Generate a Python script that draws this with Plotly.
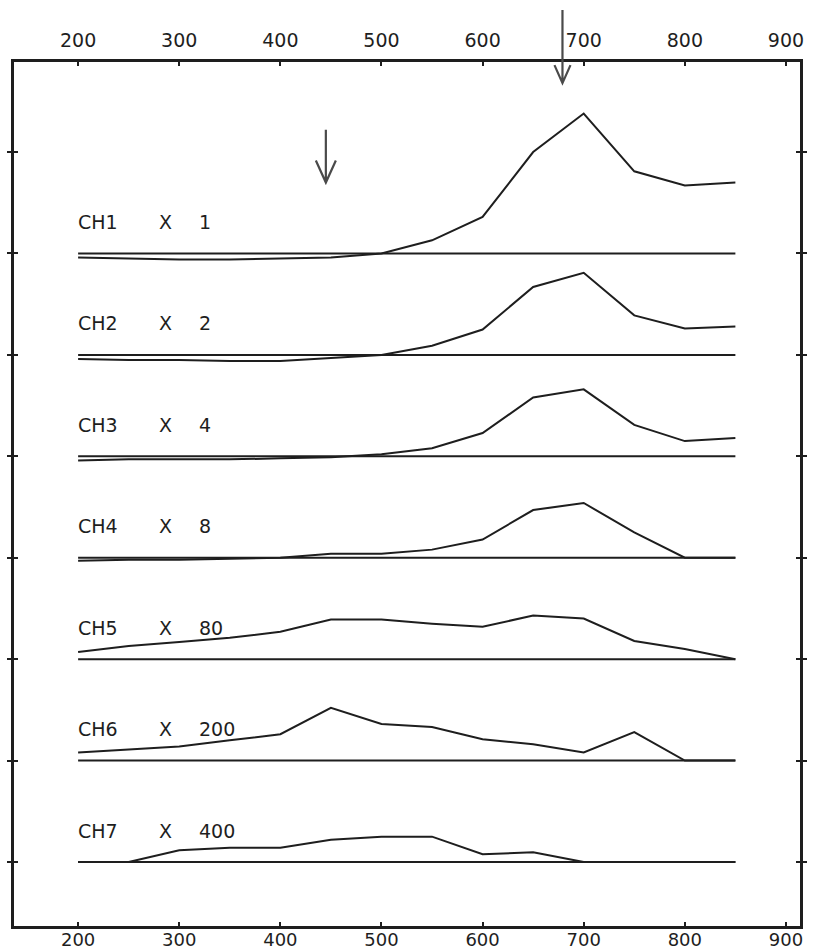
import plotly.graph_objects as go

# ---------------- data ----------------
WAVELENGTH = [200, 250, 300, 350, 400, 450, 500, 550, 600, 650, 700, 750, 800, 850]
CHANNELS = ["CH1", "CH2", "CH3", "CH4", "CH5", "CH6", "CH7"]
FACTORS = ["1", "2", "4", "8", "80", "200", "400"]
OFFSETS = [6, 5, 4, 3, 2, 1, 0]

CH1 = [-0.04, -0.05, -0.06, -0.06, -0.05, -0.04, 0.00, 0.13, 0.36, 1.00, 1.38, 0.81, 0.67, 0.70]
CH2 = [-0.04, -0.05, -0.05, -0.06, -0.06, -0.03, 0.00, 0.09, 0.25, 0.67, 0.81, 0.39, 0.26, 0.28]
CH3 = [-0.04, -0.03, -0.03, -0.03, -0.02, -0.01, 0.02, 0.08, 0.23, 0.58, 0.66, 0.31, 0.15, 0.18]
CH4 = [-0.03, -0.02, -0.02, -0.01, 0.00, 0.04, 0.04, 0.08, 0.18, 0.47, 0.54, 0.25, 0.00, 0.00]
CH5 = [0.07, 0.13, 0.17, 0.21, 0.27, 0.39, 0.39, 0.35, 0.32, 0.43, 0.40, 0.18, 0.10, 0.00]
CH6 = [0.08, 0.11, 0.14, 0.20, 0.26, 0.52, 0.36, 0.33, 0.21, 0.16, 0.08, 0.28, 0.00, 0.00]
CH7 = [0.00, 0.00, 0.115, 0.14, 0.14, 0.22, 0.25, 0.25, 0.076, 0.095, 0.00, 0.00, 0.00, 0.00]
SERIES = [CH1, CH2, CH3, CH4, CH5, CH6, CH7]

X_TICKS = [200, 300, 400, 500, 600, 700, 800, 900]
Y_TICKS = [0, 1, 2, 3, 4, 5, 6, 7]

# hand-drawn arrows (wavelength, tail level, tip level)
ARROW_X = [679, 445]
ARROW_TAIL = [8.40, 7.22]
ARROW_TIP = [7.68, 6.70]

# ---------------- layout constants ----------------
W, H = 820, 951
ML, MR, MT, MB = 14, 20, 62, 25
X_RANGE = [136.6, 913.9]
Y_RANGE = [-0.631, 7.888]
INK = "#1e1e1e"
FONT = "DejaVu Sans"

fig = go.Figure()

for name, off, vals in zip(CHANNELS, OFFSETS, SERIES):
    fig.add_trace(go.Scatter(
        x=[WAVELENGTH[0], WAVELENGTH[-1]], y=[off, off],
        mode="lines", line=dict(color=INK, width=2),
        xaxis="x2", yaxis="y", showlegend=False, hoverinfo="skip"))
    fig.add_trace(go.Scatter(
        x=WAVELENGTH, y=[off + v for v in vals],
        mode="lines", line=dict(color=INK, width=2),
        name=name, showlegend=False))

# channel labels
annots = []
lab_font = dict(family=FONT, size=19, color=INK)
for name, fac, off in zip(CHANNELS, FACTORS, OFFSETS):
    yy = off + 0.31
    annots.append(dict(x=198, y=yy, xref="x", yref="y", text=name, showarrow=False,
                       xanchor="left", yanchor="middle", font=lab_font))
    annots.append(dict(x=286, y=yy, xref="x", yref="y", text="X", showarrow=False,
                       xanchor="center", yanchor="middle", font=lab_font))
    annots.append(dict(x=318, y=yy, xref="x", yref="y", text=fac, showarrow=False,
                       xanchor="left", yanchor="middle", font=lab_font))

# arrows as paper-referenced shapes (not clipped by the plot area)
pw = W - ML - MR
ph = H - MT - MB
def px(x):
    return (x - X_RANGE[0]) / (X_RANGE[1] - X_RANGE[0])
def py(y):
    return (y - Y_RANGE[0]) / (Y_RANGE[1] - Y_RANGE[0])

shapes = []
heads = [(8, 18), (10, 22)]
for ax, at, tp, (hw, hh) in zip(ARROW_X, ARROW_TAIL, ARROW_TIP, heads):
    x0 = px(ax)
    yt = py(at)
    yp = py(tp)
    dx = hw / pw
    dy = hh / ph
    path = (f"M {x0},{yt} L {x0},{yp} "
            f"M {x0 - dx},{yp + dy} L {x0},{yp} L {x0 + dx},{yp + dy}")
    shapes.append(dict(type="path", xref="paper", yref="paper", path=path,
                       line=dict(color="#4a4a4a", width=2.2)))

axis_common = dict(
    range=X_RANGE, tickvals=X_TICKS, ticks="inside", ticklen=4, tickwidth=2,
    tickcolor=INK, showgrid=False, zeroline=False, automargin=False,
)

fig.update_layout(
    width=W, height=H,
    margin=dict(l=ML, r=MR, t=MT, b=MB, pad=0, autoexpand=False),
    paper_bgcolor="white", plot_bgcolor="white",
    xaxis=dict(**axis_common, side="bottom", showline=True, linecolor=INK,
               linewidth=2.5, mirror=True, ticklabelstandoff=-4,
               tickfont=dict(family=FONT, size=18, color=INK)),
    xaxis2=dict(**axis_common, side="top", overlaying="x", matches="x",
                showline=False, ticklabelstandoff=10,
                tickfont=dict(family=FONT, size=19, color=INK)),
    yaxis=dict(range=Y_RANGE, tickvals=Y_TICKS, showticklabels=False,
               ticks="inside", ticklen=4, tickwidth=2, tickcolor=INK,
               showline=True, linecolor=INK, linewidth=2.5, mirror="allticks",
               showgrid=False, zeroline=False, automargin=False),
    annotations=annots,
    shapes=shapes,
)

fig.write_html("out.html", config={"displayModeBar": False},
               post_script="document.body.style.margin='0';")
